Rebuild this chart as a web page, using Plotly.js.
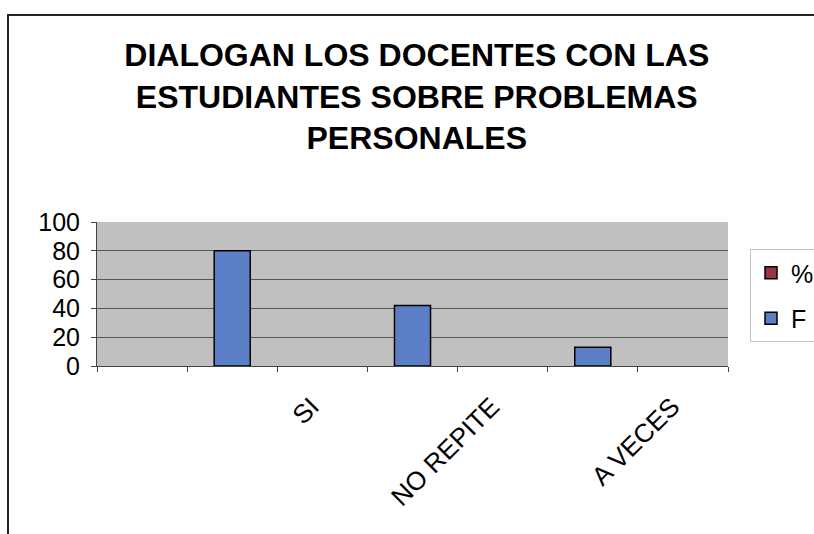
<!DOCTYPE html>
<html>
<head>
<meta charset="utf-8">
<script src="https://cdn.plot.ly/plotly-3.0.1.min.js"></script>
<style>
  html, body { margin: 0; padding: 0; background: #fff; }
  #wrap { position: relative; width: 814px; height: 534px; overflow: hidden; }
  #chart { width: 814px; height: 534px; }
  #frame { position: absolute; left: 7px; top: 14px; right: -4px; bottom: -4px;
           border-top: 2px solid #222; border-left: 2px solid #222; pointer-events: none; }
</style>
</head>
<body>
<div id="wrap">
  <div id="chart"></div>
  <div id="frame"></div>
</div>
<script>
// Category labels (shown on every other slot of the 7-slot category axis)
const categories = ["SI", "NO REPITE", "A VECES"];
// Series values
const seriesF = [80, 42, 13];
const seriesPct = [0, 0, 0];
const seriesNames = ["%", "F"];
const yTicks = [0, 20, 40, 60, 80, 100];

// Excel layout: 7 category slots; bars in slots 1,3,5, labels in slots 2,4,6
const barSlots = categories.map((_, i) => 2 * i + 1);
const labelSlots = categories.map((_, i) => 2 * i + 2 - 0.12);
const nSlots = 2 * categories.length + 1;

const data = [
  {
    type: "bar", name: seriesNames[0], x: barSlots, y: seriesPct,
    width: 0.4, legendgroup: "a",
    marker: { color: "#9b3446", line: { color: "#000", width: 1.5 } }
  },
  {
    type: "bar", name: seriesNames[1], x: barSlots, y: seriesF,
    width: 0.4, legendgroup: "b",
    marker: { color: "#5b7ec6", line: { color: "#000", width: 1.5 } }
  },
  { // invisible helper to drive the boundary tick-mark axis
    type: "scatter", x: [0], y: [0], xaxis: "x2", mode: "markers",
    marker: { opacity: 0 }, showlegend: false, hoverinfo: "skip"
  }
];

const layout = {
  width: 814, height: 534,
  paper_bgcolor: "#ffffff",
  plot_bgcolor: "#c0c0c0",
  font: { family: "Liberation Sans, Arial, sans-serif", color: "#000" },
  title: {
    text: "<b>DIALOGAN LOS DOCENTES CON LAS<br>ESTUDIANTES SOBRE PROBLEMAS<br>PERSONALES</b>",
    font: { size: 32, family: "Liberation Sans, Arial, sans-serif", color: "#000" },
    xref: "container", x: 0.512, xanchor: "center",
    yref: "container", y: 1 - 66 / 534, yanchor: "top"
  },
  margin: { l: 97, r: 86, t: 222, b: 168, autoexpand: false },
  barmode: "overlay",
  showlegend: true,
  legend: {
    xref: "container", x: 750 / 814, xanchor: "left",
    yref: "container", y: 1 - 249 / 534, yanchor: "top",
    bgcolor: "#ffffff", bordercolor: "#c4c4c4", borderwidth: 1,
    font: { size: 25 }, traceorder: "grouped", tracegroupgap: 10
  },
  xaxis: {
    range: [-0.5, nSlots - 0.5],
    tickmode: "array", tickvals: labelSlots, ticktext: categories,
    tickangle: -45, ticks: "", showgrid: false, zeroline: false,
    showline: true, linecolor: "#444", linewidth: 1,
    tickfont: { size: 26 }, ticklabelstandoff: 14, fixedrange: true
  },
  xaxis2: {
    overlaying: "x", side: "bottom",
    range: [-0.5, nSlots - 0.5],
    tickmode: "linear", tick0: -0.5, dtick: 1,
    ticks: "outside", ticklen: 5, tickcolor: "#444",
    showticklabels: false, showgrid: false, zeroline: false
  },
  yaxis: {
    range: [0, 100],
    tickmode: "array", tickvals: yTicks,
    ticks: "outside", ticklen: 5, tickcolor: "#444",
    showgrid: true, gridcolor: "#555", gridwidth: 1,
    zeroline: false, showline: true, linecolor: "#444", linewidth: 1,
    tickfont: { size: 25 }, ticklabelstandoff: 6
  }
};

Plotly.newPlot("chart", data, layout, { displayModeBar: false, staticPlot: true });
</script>
</body>
</html>
